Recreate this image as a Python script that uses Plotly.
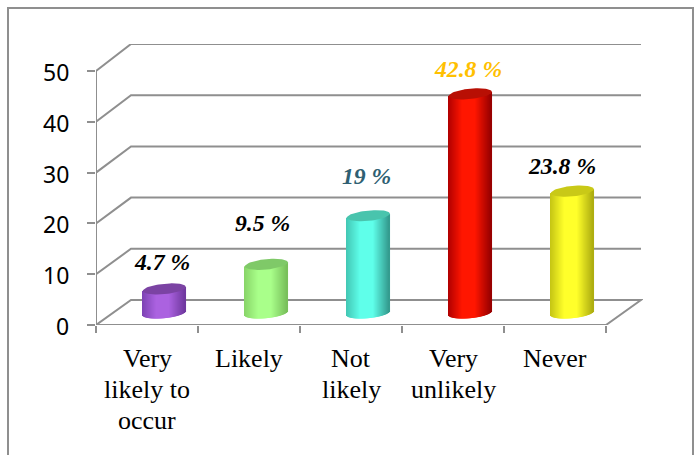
import numpy as np
import plotly.graph_objects as go

# Survey results
categories = ["Very<br>likely to<br>occur", "Likely", "Not<br>likely", "Very<br>unlikely", "Never"]
percent_values = [4.7, 9.5, 19, 42.8, 23.8]
percent_labels = ["4.7 %", "9.5 %", "19 %", "42.8 %", "23.8 %"]
y_ticks = [0, 10, 20, 30, 40, 50]

# Colours: (side shadow, mid highlight, cap) for each cylinder
side_left = ["#7d43b4", "#88d468", "#42c6b4", "#b00000", "#c4c414"]
side_mid = ["#ab62e0", "#a9ff8a", "#5fffea", "#ff1600", "#ffff2a"]
side_right = ["#6f389e", "#78bf5a", "#33998d", "#960000", "#acac10"]
cap_colors = ["#7b43a3", "#7fc968", "#49c4ad", "#b80f04", "#c9c917"]
label_colors = ["#000000", "#000000", "#2f5f72", "#ffc000", "#000000"]
label_dx = [-2, -4, -2, -2, -10]
label_dy = [27, 41, 40, 25, 25]

# Plot frame on the page, in pixels
W, H = 694, 455
LEFT, RIGHT, TOP, BOTTOM = 96, 643, 44, 325
PX_PER_X = 102
PX_PER_Y = 5.08
x_max = (RIGHT - LEFT) / PX_PER_X
y_max = (BOTTOM - TOP) / PX_PER_Y

# Oblique depth of the pseudo-3D box
depth_x = 35 / PX_PER_X
depth_y = 25 / PX_PER_Y
depth_scale = 1.008

# Cylinder geometry
half_w = 21.5 / PX_PER_X
ellipse_h = 5.2 / PX_PER_Y
tilt = 2.0 / PX_PER_Y
center_off = 0.17
base_y = 12 / PX_PER_Y
n_slices = 43

# Axis text placement, in pixels
CAT_FIRST_LINE = 33
CAT_LINE_PITCH = 31
Y_LABEL_GAP = 25
Y_LABEL_DROP = 1


def rgb(c):
    return np.array([int(c[i:i + 2], 16) for i in (1, 3, 5)], dtype=float)


def shade(u, left, mid, right):
    # Flat highlight through the middle, falling off to each edge
    lo, hi = -0.35, 0.25
    if u < lo:
        t = (lo - u) / (1 + lo)
        c = rgb(mid) * (1 - t) + rgb(left) * t
    elif u > hi:
        t = (u - hi) / (1 - hi)
        c = rgb(mid) * (1 - t) + rgb(right) * t
    else:
        c = rgb(mid)
    return "rgb(%d,%d,%d)" % tuple(c)


us = (np.arange(n_slices) + 0.5) / n_slices * 2 - 1
bar_x, bar_base, bar_h, bar_col = [], [], [], []
fig = go.Figure()

for i, v in enumerate(percent_values):
    cx = i + 0.5 + center_off
    top = base_y + v * depth_scale
    for u in us:
        bottom = base_y + tilt * u - ellipse_h * np.sqrt(1 - u * u)
        bar_x.append(cx + u * half_w)
        bar_base.append(bottom)
        bar_h.append(top + tilt * u - bottom)
        bar_col.append(shade(u, side_left[i], side_mid[i], side_right[i]))

fig.add_trace(go.Bar(
    x=bar_x, y=bar_h, base=bar_base, width=1.4 / PX_PER_X,
    marker=dict(color=bar_col, line=dict(width=0)),
    hoverinfo="skip", showlegend=False,
))

# Elliptical caps on the cylinders
ts = np.linspace(0, 2 * np.pi, 73)
for i, v in enumerate(percent_values):
    cx = i + 0.5 + center_off
    top = base_y + v * depth_scale
    fig.add_trace(go.Scatter(
        x=cx + half_w * np.cos(ts),
        y=top + tilt * np.cos(ts) + ellipse_h * np.sin(ts),
        mode="lines", fill="toself", fillcolor=cap_colors[i],
        line=dict(width=0), hoverinfo="skip", showlegend=False,
    ))

GRAY = "#8f8f8f"
n_cat = len(categories)
shapes = []
# Side wall and back wall rules at every tick value
for t in y_ticks:
    back = t * depth_scale + depth_y
    shapes.append(dict(
        type="path", layer="below", xref="x", yref="y",
        path=f"M 0 {t} L {depth_x} {back} L {n_cat + depth_x} {back}"
             + (f" L {n_cat} 0 Z" if t == 0 else ""),
        line=dict(color=GRAY, width=2),
    ))
# Vertical axis
shapes.append(dict(type="line", layer="below", xref="x", yref="y",
                   x0=0, x1=0, y0=0, y1=y_ticks[-1],
                   line=dict(color=GRAY, width=2)))
# Outer frame, running off the bottom of the page
shapes.append(dict(
    type="rect", xref="paper", yref="paper",
    x0=(8 - LEFT) / (RIGHT - LEFT), x1=(693 - LEFT) / (RIGHT - LEFT),
    y0=(BOTTOM - 470) / (BOTTOM - TOP), y1=(BOTTOM - 8) / (BOTTOM - TOP),
    line=dict(color=GRAY, width=2),
))

# Value labels above the cylinders
annotations = [
    dict(
        x=i + 0.5 + center_off, y=base_y + v * depth_scale,
        xref="x", yref="y", text=percent_labels[i], showarrow=False,
        xshift=label_dx[i], yshift=label_dy[i],
        font=dict(family="Liberation Serif", size=23.7, color=label_colors[i],
                  weight="bold", style="italic"),
    )
    for i, v in enumerate(percent_values)
]

# Category names, one annotation per line for a tight line pitch
for i, name in enumerate(categories):
    for k, line in enumerate(name.split("<br>")):
        annotations.append(dict(
            x=i + 0.5, y=0, xref="x", yref="y", text=line, showarrow=False,
            yanchor="middle", yshift=-(CAT_FIRST_LINE + k * CAT_LINE_PITCH),
            font=dict(family="Liberation Serif", size=26, color="#000000"),
        ))

# Value axis numbers
for t in y_ticks:
    annotations.append(dict(
        x=0, y=t, xref="x", yref="y", text=str(t), showarrow=False,
        xanchor="right", yanchor="middle",
        xshift=-Y_LABEL_GAP, yshift=-Y_LABEL_DROP,
        font=dict(family="Noto Sans", size=23, color="#000000"),
    ))

fig.update_layout(
    width=W, height=H, autosize=False,
    margin=dict(l=LEFT, r=W - RIGHT, t=TOP, b=H - BOTTOM, pad=0),
    paper_bgcolor="white", plot_bgcolor="rgba(0,0,0,0)",
    barmode="overlay", showlegend=False,
    shapes=shapes, annotations=annotations,
    xaxis=dict(
        range=[0, x_max], showgrid=False, zeroline=False, showline=False,
        tickmode="array", tickvals=[i + 0.5 for i in range(n_cat)],
        showticklabels=False, ticks="",
        minor=dict(ticks="outside", ticklen=7, tickwidth=2, tickcolor=GRAY,
                   tickmode="array", tickvals=list(range(n_cat + 1))),
    ),
    yaxis=dict(
        range=[0, y_max], showgrid=False, zeroline=False, showline=False,
        tickmode="array", tickvals=y_ticks, ticks="outside", ticklen=8,
        tickwidth=2, tickcolor=GRAY, showticklabels=False,
    ),
)

fig.write_html("out.html", config=dict(displayModeBar=False))
